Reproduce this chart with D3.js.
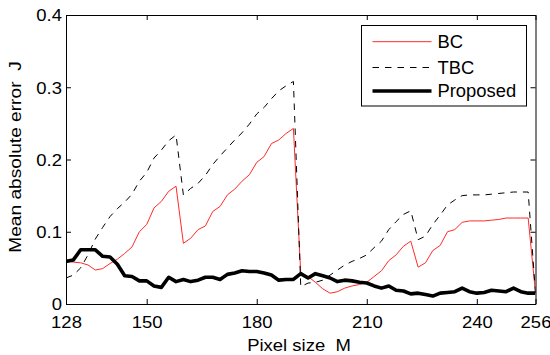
<!DOCTYPE html>
<html>
<head>
<meta charset="utf-8">
<script src="https://cdn.jsdelivr.net/npm/d3@7"></script>
<style>
  html, body { margin: 0; padding: 0; background: #fff; }
  svg text { font-family: "Liberation Sans", Arial, Helvetica, sans-serif; fill: #000; white-space: pre; }
</style>
</head>
<body>
<svg id="chart" width="550" height="355"></svg>
<script>
const pixelSize = [128,130,132,134,136,138,140,142,144,146,148,150,152,154,156,158,160,162,164,166,168,170,172,174,176,178,180,182,184,186,188,190,192,194,196,198,200,202,204,206,208,210,212,214,216,218,220,222,224,226,228,230,232,234,236,238,240,242,244,246,248,250,252,254,256];

const bc = [0.060,0.058,0.057,0.054,0.047,0.049,0.056,0.062,0.070,0.079,0.100,0.110,0.133,0.142,0.156,0.163,0.084,0.091,0.103,0.108,0.128,0.135,0.151,0.159,0.170,0.179,0.196,0.204,0.222,0.227,0.236,0.243,0.042,0.038,0.030,0.021,0.015,0.017,0.022,0.025,0.027,0.030,0.038,0.046,0.060,0.068,0.080,0.087,0.051,0.057,0.074,0.081,0.100,0.103,0.113,0.115,0.115,0.115,0.116,0.117,0.119,0.119,0.119,0.119,0.015];

const tbc = [0.036,0.040,0.050,0.068,0.090,0.106,0.121,0.132,0.141,0.152,0.170,0.182,0.202,0.213,0.226,0.234,0.151,0.160,0.167,0.178,0.193,0.205,0.216,0.227,0.237,0.249,0.263,0.272,0.284,0.295,0.302,0.308,0.024,0.029,0.030,0.033,0.040,0.047,0.054,0.059,0.063,0.068,0.078,0.087,0.103,0.114,0.124,0.129,0.089,0.094,0.110,0.123,0.137,0.144,0.150,0.151,0.151,0.151,0.152,0.153,0.154,0.155,0.155,0.155,0.015];

const proposed = [0.059,0.061,0.075,0.075,0.075,0.066,0.065,0.055,0.039,0.038,0.032,0.032,0.025,0.023,0.037,0.031,0.034,0.031,0.033,0.037,0.037,0.034,0.041,0.043,0.046,0.045,0.045,0.043,0.040,0.033,0.034,0.034,0.042,0.036,0.042,0.039,0.036,0.031,0.033,0.032,0.030,0.029,0.025,0.022,0.025,0.019,0.018,0.014,0.015,0.013,0.011,0.015,0.016,0.017,0.022,0.017,0.015,0.016,0.019,0.018,0.017,0.022,0.017,0.015,0.015];

const xTicks = [128,150,180,210,240,256];
const yTicks = [0,0.1,0.2,0.3,0.4];
const seriesNames = ["BC","TBC","Proposed"];
const xLabel = "Pixel size  M";
const yLabel = "Mean absolute error  J";

const seriesStyle = {
  "BC": {stroke: "#ff2a2a", width: 1, dash: null},
  "TBC": {stroke: "#000", width: 1, dash: "6.5,6"},
  "Proposed": {stroke: "#000", width: 3.6, dash: null}
};
const seriesData = {"BC": bc, "TBC": tbc, "Proposed": proposed};

const L = 66, R = 535.5, T = 15, B = 304;
const svg = d3.select("#chart");
const x = d3.scaleLinear().domain([128,256]).range([L,R]);
const y = d3.scaleLinear().domain([0,0.4]).range([B,T]);

const fs = 16.5;
const sx = 1.12; // horizontal stretch of reference glyphs

// series
svg.append("clipPath").attr("id","clip").append("rect")
  .attr("x",L).attr("y",T).attr("width",R-L).attr("height",B-T);
const line = d3.line().x((d,i)=>x(pixelSize[i])).y(d=>y(d));
seriesNames.forEach(n => {
  const s = seriesStyle[n];
  svg.append("path").datum(seriesData[n])
    .attr("clip-path","url(#clip)")
    .attr("d", line)
    .attr("fill","none")
    .attr("stroke", s.stroke)
    .attr("stroke-width", s.width)
    .attr("stroke-linejoin","round")
    .attr("stroke-dasharray", s.dash);
});

// axes (MATLAB-style, ticks inward on all four sides)
const tickLen = 5;
const axB = d3.axisBottom(x).tickValues(xTicks).tickSizeInner(-tickLen).tickSizeOuter(0).tickFormat(d3.format("d"));
const axT = d3.axisTop(x).tickValues(xTicks).tickSizeInner(-tickLen).tickSizeOuter(0).tickFormat("");
const axL = d3.axisLeft(y).tickValues(yTicks).tickSizeInner(-tickLen).tickSizeOuter(0).tickFormat(d => d===0 ? "0" : d3.format(".1f")(d));
const axR = d3.axisRight(y).tickValues(yTicks).tickSizeInner(-tickLen).tickSizeOuter(0).tickFormat("");

function styleAxis(g){
  g.attr("font-family", null).attr("font-size", null);
  g.select(".domain").attr("stroke","#000").attr("stroke-width",1);
  g.selectAll(".tick line").attr("stroke","#000").attr("stroke-width",1);
  g.selectAll(".tick text").attr("font-size", fs);
}
const gB = svg.append("g").attr("transform",`translate(0,${B})`).call(axB).call(styleAxis);
gB.selectAll(".tick text").attr("y", 12).attr("dy","0.71em").attr("transform",`scale(${sx},1)`);
svg.append("g").attr("transform",`translate(0,${T})`).call(axT).call(styleAxis);
const gL = svg.append("g").attr("transform",`translate(${L},0)`).call(axL).call(styleAxis);
gL.selectAll(".tick text").attr("x", -4/sx).attr("dy","0.35em").attr("transform",`scale(${sx},1)`);
svg.append("g").attr("transform",`translate(${R},0)`).call(axR).call(styleAxis);

// axis labels
svg.append("text").attr("transform",`translate(299,351) scale(${sx},1)`).attr("text-anchor","middle")
  .attr("font-size", fs).text(xLabel);
svg.append("text").attr("transform","translate(21,157) rotate(-90) scale(1.16,1)").attr("text-anchor","middle")
  .attr("font-size", fs).text(yLabel);

// legend
const lg = svg.append("g");
lg.append("rect").attr("x",361.5).attr("y",25.5).attr("width",165).attr("height",80.5)
  .attr("fill","#fff").attr("stroke","#000").attr("stroke-width",1);
const rowY = [41.7, 67.5, 91];
seriesNames.forEach((n,i) => {
  const s = seriesStyle[n];
  lg.append("line").attr("x1",372.5).attr("x2",431.5).attr("y1",rowY[i]).attr("y2",rowY[i])
    .attr("stroke", s.stroke).attr("stroke-width", s.width).attr("stroke-dasharray", s.dash);
  lg.append("text").attr("transform",`translate(437.5,${rowY[i]}) scale(1.05,1)`).attr("dy","0.36em")
    .attr("font-size", 17.5).text(n);
});
</script>
</body>
</html>
